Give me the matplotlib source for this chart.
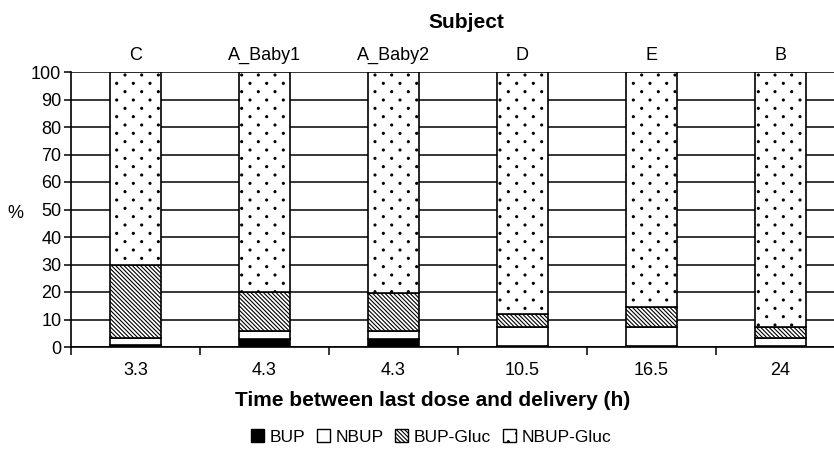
import numpy as np
import matplotlib
matplotlib.use('Agg')
import matplotlib.pyplot as plt
from matplotlib import hatch as mhatch
from matplotlib.patches import Patch

plt.rcParams['font.family'] = ['Liberation Sans', 'DejaVu Sans']
plt.rcParams['hatch.linewidth'] = 0.8

# data (% of total)
subjects = ['C', 'A_Baby1', 'A_Baby2', 'D', 'E', 'B']
hours = ['3.3', '4.3', '4.3', '10.5', '16.5', '24']
bup = [0.7, 2.8, 2.8, 0.5, 0.5, 0.3]
nbup = [2.5, 3.0, 3.0, 6.9, 6.9, 2.9]
bup_gluc = [26.8, 14.2, 13.9, 4.6, 7.0, 4.0]
nbup_gluc = [70.0, 80.0, 80.3, 88.0, 85.6, 92.8]


# sparse staggered dot hatch (rows twice as close as columns), like the original
class SparseDots(mhatch.Circles):
    size = 0.12
    filled = True

    def __init__(self, hatch, density):
        self.num_rows = hatch.count('.') * density * 2
        super().__init__(hatch, density)
        if self.num_rows:
            n = self.num_rows
            self.num_shapes = (n // 2 + 1) ** 2 + (n // 2) ** 2
            self.num_vertices = self.num_shapes * len(self.shape_vertices)

    def set_vertices_and_codes(self, vertices, codes):
        n = self.num_rows
        offset = 1.0 / n
        sv = self.shape_vertices * offset * self.size
        vparts, cparts = [], []
        for row in range(n + 1):
            if row % 2 == 0:
                cols = np.linspace(0, 1, n // 2 + 1)
            else:
                cols = np.linspace(offset, 1 - offset, n // 2)
            for c in cols:
                vparts.append(sv + [c, row * offset])
                cparts.append(self.shape_codes)
        np.concatenate(vparts, out=vertices)
        np.concatenate(cparts, out=codes)


mhatch._hatch_types = [SparseDots if t is mhatch.SmallFilledCircles else t
                       for t in mhatch._hatch_types]

fig = plt.figure(figsize=(8.34, 4.55), dpi=100)
ax = fig.add_axes([71 / 834, 108 / 455, 774 / 834, 275 / 455])

x = np.arange(len(subjects))
w = 0.4
bottom = np.zeros(len(subjects))
# stacked bars, bottom to top
series = [(bup, 'black', ''), (nbup, 'white', ''),
          (bup_gluc, 'white', '\\' * 8), (nbup_gluc, 'white', '.')]
for vals, fc, hatch in series:
    ax.bar(x, vals, w, bottom=bottom, color=fc, edgecolor='black',
           hatch=hatch, linewidth=1.2, zorder=3)
    bottom = bottom + np.array(vals)

ax.set_xlim(-0.5, len(subjects) - 0.5)
ax.set_ylim(0, 100)
ax.set_yticks(np.arange(0, 101, 10))
ax.yaxis.grid(True, color='black', linewidth=1.1)
ax.set_axisbelow(True)

ax.set_xticks(x)
ax.set_xticklabels(hours, fontsize=13)
ax.set_xticks(np.arange(-0.5, len(subjects), 1), minor=True)
ax.tick_params(axis='x', which='major', length=0, pad=11)
ax.tick_params(axis='x', which='minor', length=6, width=1.1, direction='out')
ax.tick_params(axis='y', labelsize=13, length=5, width=1.1, pad=2)

for s in ['top', 'right']:
    ax.spines[s].set_visible(False)
for s in ['left', 'bottom']:
    ax.spines[s].set_linewidth(1.2)

# subject names above bars
for i, name in enumerate(subjects):
    ax.annotate(name, (i, 100), xytext=(0, 6), textcoords='offset points',
                ha='center', va='bottom', fontsize=13, annotation_clip=False)
fig.text(466 / 834, 1 - 22 / 455, 'Subject', ha='center', va='center',
         fontsize=15, fontweight='bold')

ax.set_xlabel('Time between last dose and delivery (h)', fontsize=15,
              fontweight='bold')
ax.xaxis.set_label_coords((433 - 71) / 774, -(400 - 347) / 275)
ax.xaxis.label.set_va('center')
fig.text(15 / 834, 1 - 213 / 455, '%', ha='center', va='center', fontsize=13)

handles = [Patch(facecolor=fc, edgecolor='black', hatch=h, linewidth=1)
           for _, fc, h in series]
fig.legend(handles, ['BUP', 'NBUP', 'BUP-Gluc', 'NBUP-Gluc'],
           loc='center', bbox_to_anchor=(431 / 834, 1 - 437 / 455), ncol=4,
           frameon=False, fontsize=12.5, handlelength=0.75, handleheight=0.75,
           handletextpad=0.3, columnspacing=0.7)

fig.savefig('out.png', dpi=100)
